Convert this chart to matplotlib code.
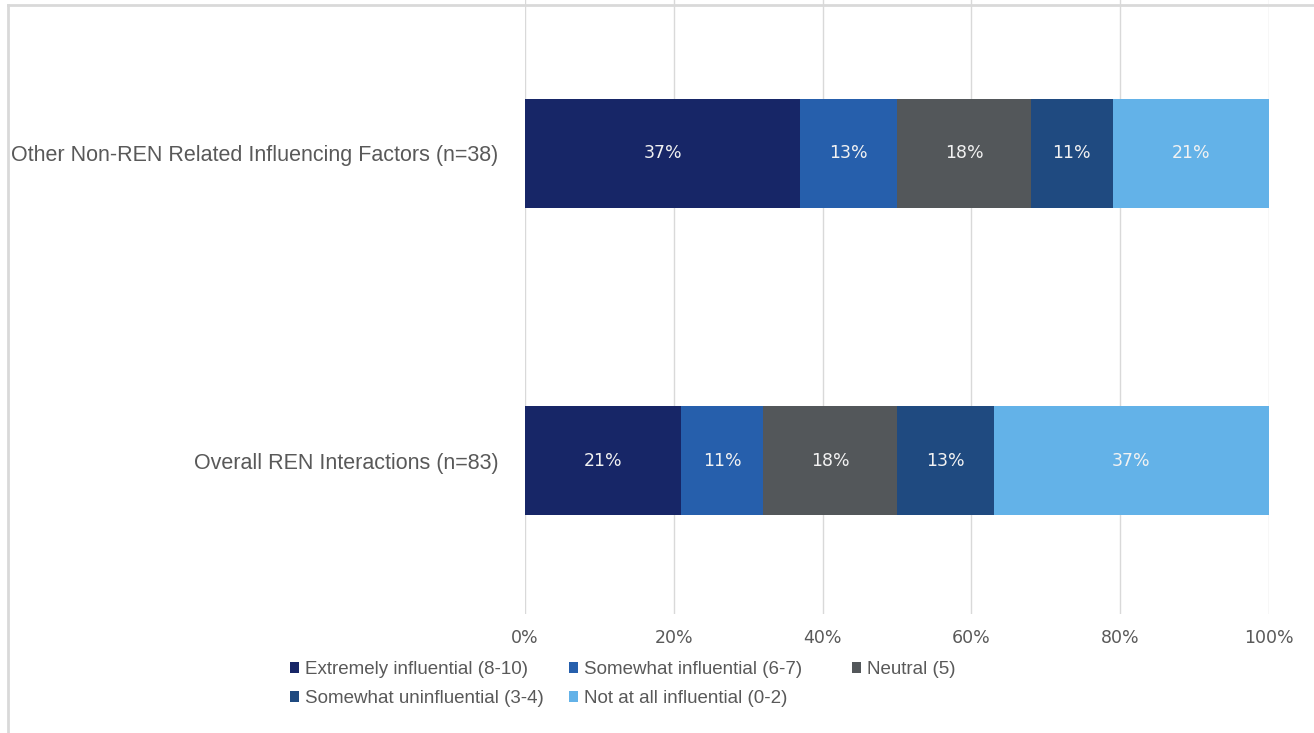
import matplotlib
matplotlib.use('agg')
import matplotlib.pyplot as plt
from matplotlib.lines import Line2D
from matplotlib.patches import Patch

# survey groups, bottom to top on the chart
groups = ['Overall REN Interactions (n=83)',
          'Other Non-REN Related Influencing Factors (n=38)']
levels = ['Extremely influential (8-10)', 'Somewhat influential (6-7)',
          'Neutral (5)', 'Somewhat uninfluential (3-4)',
          'Not at all influential (0-2)']
extremely = [21, 37]
somewhat = [11, 13]
neutral = [18, 18]
uninfluential = [13, 11]
not_at_all = [37, 21]

colors = ['#172667', '#265FAC', '#53575A', '#1F4A80', '#63B2E8']
text_grey = '#595959'

plt.rcParams['font.family'] = ['Liberation Sans', 'DejaVu Sans']

fig = plt.figure(figsize=(13.14, 7.33), dpi=100)
ax = fig.add_axes([525 / 1314, 1 - 614 / 733, 744 / 1314, 614 / 733])

ypos = list(range(len(groups)))
left = [0] * len(groups)
for vals, col in zip([extremely, somewhat, neutral, uninfluential, not_at_all], colors):
    bars = ax.barh(ypos, vals, left=left, height=0.355, color=col, zorder=3)
    for b, v in zip(bars, vals):
        ax.text(b.get_x() + b.get_width() / 2, b.get_y() + b.get_height() / 2,
                f'{v}%', ha='center', va='center', color='#F2F2F2',
                fontsize=12.5, family='DejaVu Sans', zorder=4)
    left = [l + v for l, v in zip(left, vals)]

ax.set_xlim(0, 100)
ax.set_ylim(-0.5, 1.5)
ax.set_xticks(range(0, 101, 20))
ax.set_xticklabels([f'{t}%' for t in range(0, 101, 20)], family='DejaVu Sans')
ax.set_yticks(ypos)
ax.set_yticklabels(groups)
ax.grid(axis='x', color='#D9D9D9', linewidth=1, zorder=0)
for s in ax.spines.values():
    s.set_visible(False)
ax.tick_params(axis='both', length=0, colors=text_grey)
ax.tick_params(axis='y', pad=19, labelsize=15.5)
ax.tick_params(axis='x', pad=11, labelsize=12.5)

# legend laid out in equal-width columns, filled row by row
handles = [Patch(facecolor=c) for c in colors]
columns = [[0, 3], [1, 4], [2]]
col_x = [290, 569, 852]
for idx, x in zip(columns, col_x):
    leg = fig.legend([handles[i] for i in idx], [levels[i] for i in idx],
                     loc='upper left', bbox_to_anchor=(x / 1314, 1 - 661 / 733),
                     frameon=False, fontsize=13.5, labelcolor=text_grey,
                     handlelength=0.5, handleheight=0.5, handletextpad=0.3,
                     labelspacing=0.65, borderaxespad=0, borderpad=0)

# light frame along the top and left edges
fig.add_artist(Line2D([8 / 1314, 1], [1 - 5 / 733, 1 - 5 / 733],
                      transform=fig.transFigure, color='#D9D9D9', linewidth=2))
fig.add_artist(Line2D([8 / 1314, 8 / 1314], [0, 1 - 5 / 733],
                      transform=fig.transFigure, color='#D9D9D9', linewidth=2))

fig.savefig('out.png', dpi=100)
